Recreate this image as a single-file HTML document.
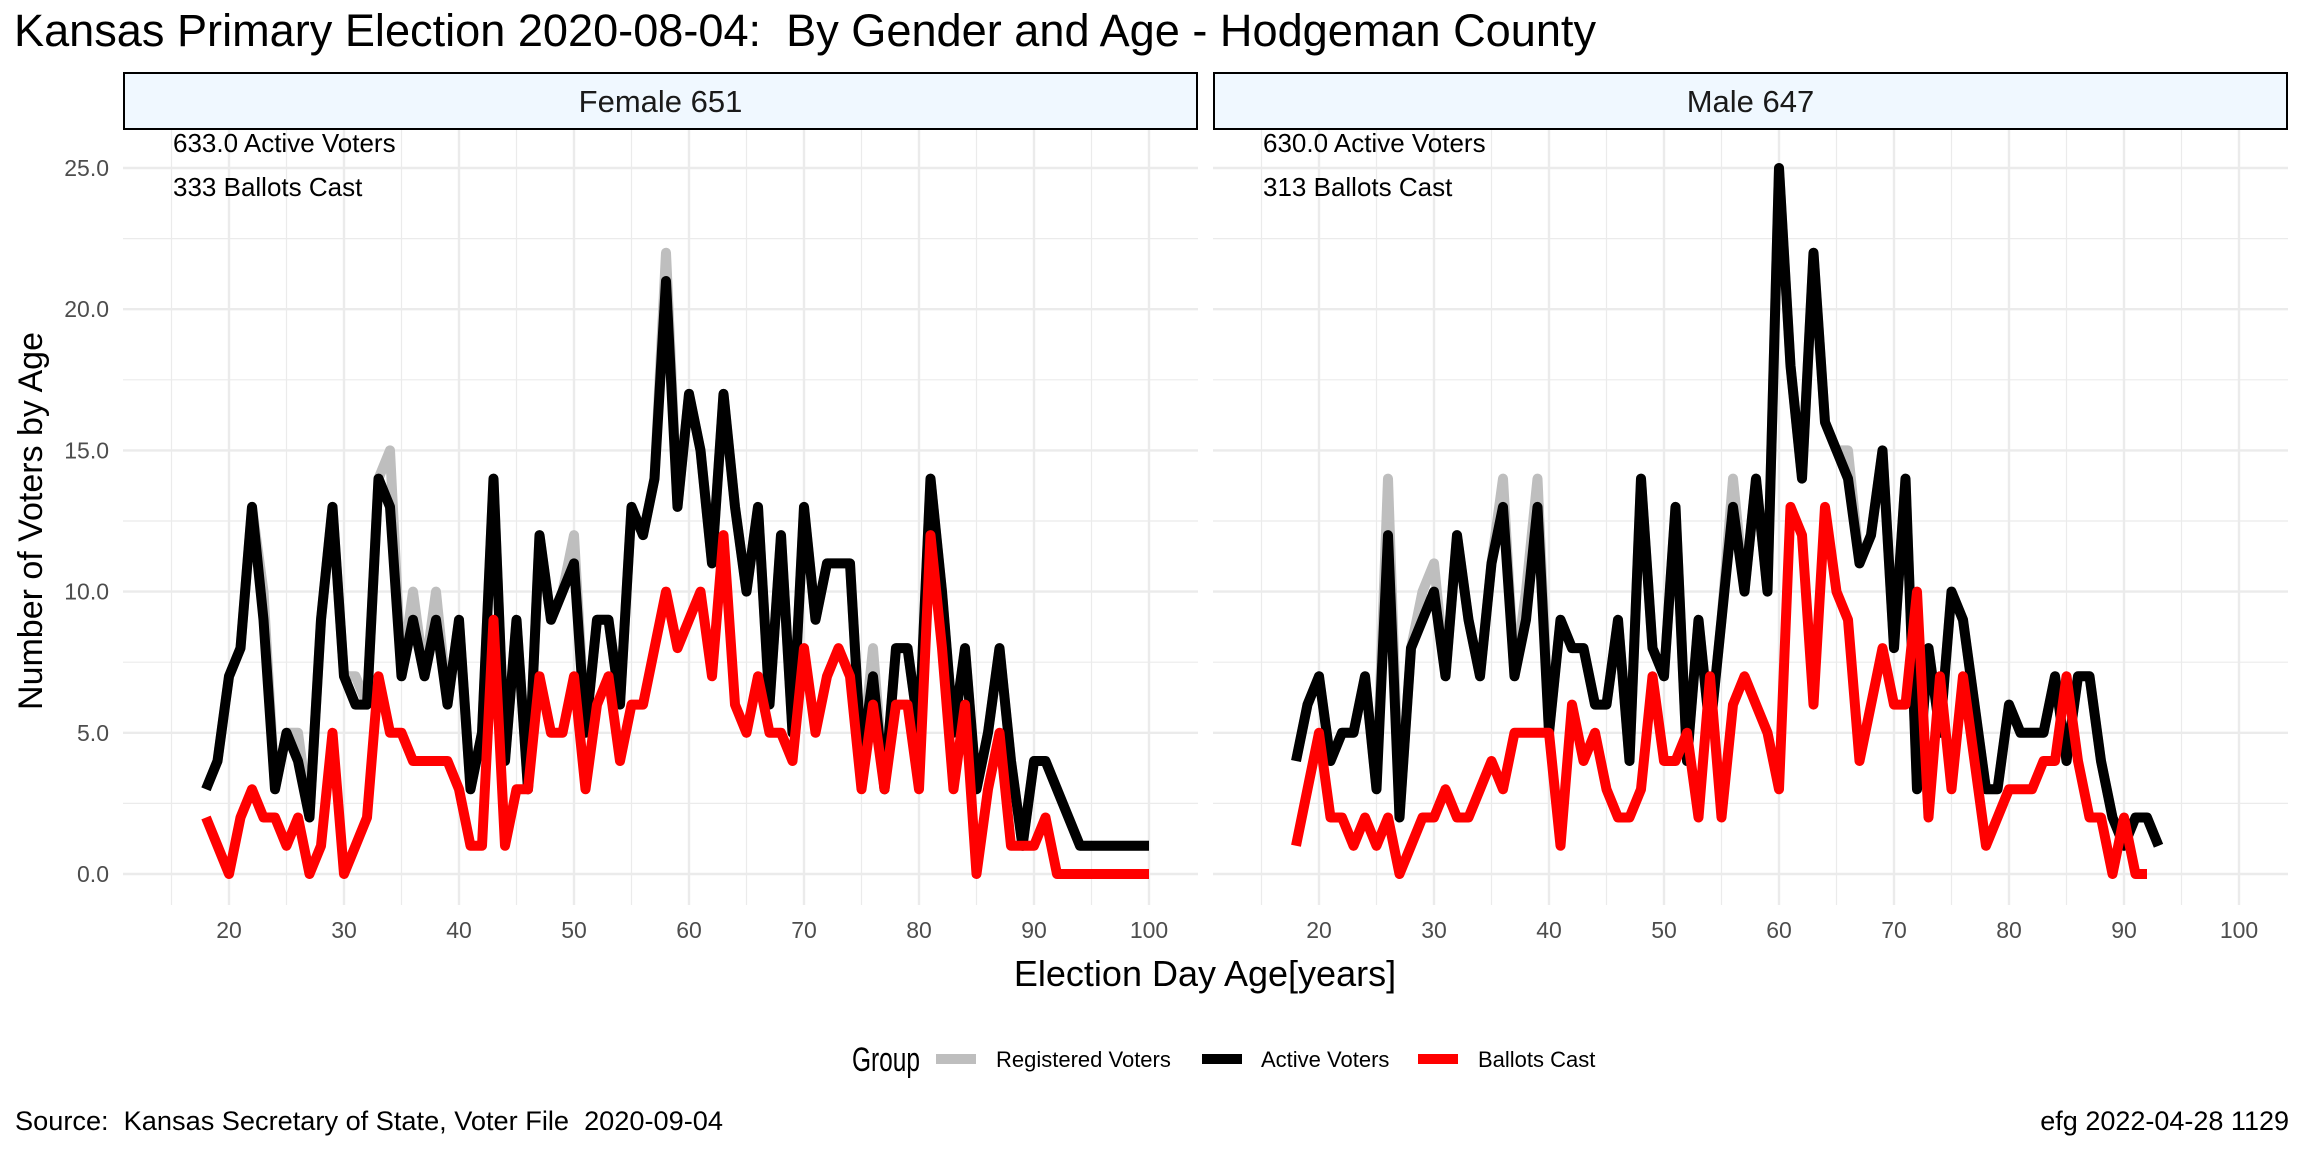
<!DOCTYPE html>
<html><head><meta charset="utf-8"><style>
html,body{margin:0;padding:0;background:#fff;}
svg{display:block;font-family:"Liberation Sans",Arial,sans-serif;}
text{white-space:pre;}
</style></head><body>
<svg id="chart" width="2304" height="1152" viewBox="0 0 2304 1152" xmlns="http://www.w3.org/2000/svg" xml:space="preserve">
<rect width="2304" height="1152" fill="#fff"/>
<text x="14" y="46" font-size="45" fill="#000" textLength="1582" lengthAdjust="spacingAndGlyphs">Kansas Primary Election 2020-08-04:  By Gender and Age - Hodgeman County</text>
<g id="panels"></g>
<text transform="translate(42,521) rotate(-90)" text-anchor="middle" font-size="34" fill="#000">Number of Voters by Age</text>
<text x="1205" y="986" text-anchor="middle" font-size="36" fill="#000">Election Day Age[years]</text>
<g>
<text x="852" y="1071" font-size="34" fill="#000" textLength="68" lengthAdjust="spacingAndGlyphs">Group</text>
<rect x="936" y="1054" width="40" height="10" fill="#bebebe"/>
<text x="996" y="1067" font-size="22" fill="#000">Registered Voters</text>
<rect x="1202" y="1054" width="40" height="10" fill="#000"/>
<text x="1261" y="1067" font-size="22" fill="#000">Active Voters</text>
<rect x="1418" y="1054" width="40" height="10" fill="#ff0000"/>
<text x="1478" y="1067" font-size="22" fill="#000">Ballots Cast</text>
</g>
<text x="15" y="1130" font-size="27" fill="#000" textLength="708" lengthAdjust="spacingAndGlyphs">Source:  Kansas Secretary of State, Voter File  2020-09-04</text>
<text x="2289" y="1130" text-anchor="end" font-size="27" fill="#000">efg 2022-04-28 1129</text>
</svg>
<script>
const femaleAges = [18,19,20,21,22,23,24,25,26,27,28,29,30,31,32,33,34,35,36,37,38,39,40,41,42,43,44,45,46,47,48,49,50,51,52,53,54,55,56,57,58,59,60,61,62,63,64,65,66,67,68,69,70,71,72,73,74,75,76,77,78,79,80,81,82,83,84,85,86,87,88,89,90,91,92,93,94,95,96,97,98,99,100];
const femaleRegistered = [3,4,7,8,13,10,3,5,5,2,9,13,7,7,6,14,15,7,10,7,10,6,9,3,5,14,4,9,3,12,9,10,12,5,9,9,6,13,12,14,22,13,17,15,11,17,13,10,13,6,12,5,13,9,11,11,11,4,8,3,8,8,5,14,10,5,8,3,5,8,4,1,4,4,3,2,1,1,1,1,1,1,1];
const femaleActive = [3,4,7,8,13,9,3,5,4,2,9,13,7,6,6,14,13,7,9,7,9,6,9,3,5,14,4,9,3,12,9,10,11,5,9,9,6,13,12,14,21,13,17,15,11,17,13,10,13,6,12,5,13,9,11,11,11,4,7,3,8,8,5,14,10,5,8,3,5,8,4,1,4,4,3,2,1,1,1,1,1,1,1];
const femaleBallots = [2,1,0,2,3,2,2,1,2,0,1,5,0,1,2,7,5,5,4,4,4,4,3,1,1,9,1,3,3,7,5,5,7,3,6,7,4,6,6,8,10,8,9,10,7,12,6,5,7,5,5,4,8,5,7,8,7,3,6,3,6,6,3,12,8,3,6,0,3,5,1,1,1,2,0,0,0,0,0,0,0,0,0];
const maleAges = [18,19,20,21,22,23,24,25,26,27,28,29,30,31,32,33,34,35,36,37,38,39,40,41,42,43,44,45,46,47,48,49,50,51,52,53,54,55,56,57,58,59,60,61,62,63,64,65,66,67,68,69,70,71,72,73,74,75,76,77,78,79,80,81,82,83,84,85,86,87,88,89,90,91,92,93];
const maleRegistered = [4,6,7,4,5,5,7,3,14,2,8,10,11,7,12,9,7,11,14,7,10,14,5,9,8,8,6,6,9,4,14,8,7,13,4,9,5,9,14,10,14,10,25,18,14,22,16,15,15,11,12,15,8,14,3,8,5,10,9,6,3,3,6,5,5,5,7,4,7,7,4,2,1,2,2,1];
const maleActive = [4,6,7,4,5,5,7,3,12,2,8,9,10,7,12,9,7,11,13,7,9,13,5,9,8,8,6,6,9,4,14,8,7,13,4,9,5,9,13,10,14,10,25,18,14,22,16,15,14,11,12,15,8,14,3,8,5,10,9,6,3,3,6,5,5,5,7,4,7,7,4,2,1,2,2,1];
const maleBallots = [1,3,5,2,2,1,2,1,2,0,1,2,2,3,2,2,3,4,3,5,5,5,5,1,6,4,5,3,2,2,3,7,4,4,5,2,7,2,6,7,6,5,3,13,12,6,13,10,9,4,6,8,6,6,10,2,7,3,7,4,1,2,3,3,3,4,4,7,4,2,2,0,2,0,0];
const panelTitles = ["Female 651","Male 647"];
const activeNotes = ["633.0 Active Voters","630.0 Active Voters"];
const ballotNotes = ["333 Ballots Cast","313 Ballots Cast"];
const xTicks = [20,30,40,50,60,70,80,90,100];
const yTicks = [0,5,10,15,20,25];
const yTickLabels = ["0.0","5.0","10.0","15.0","20.0","25.0"];

const NS = "http://www.w3.org/2000/svg";
const panelsG = document.getElementById("panels");
const PW = 1075, PT = 129, PB = 905;
const panelLeft = [123, 1213];
function xScale(p, age){ return panelLeft[p] + 106 + (age - 20) * 11.5; }
function yScale(v){ return 874 - v * 28.24; }
function mk(tag, attrs, parent){ const e = document.createElementNS(NS, tag); for (const k in attrs) e.setAttribute(k, attrs[k]); parent.appendChild(e); return e; }

const datasets = [
  {ages: femaleAges, reg: femaleRegistered, act: femaleActive, bal: femaleBallots},
  {ages: maleAges, reg: maleRegistered, act: maleActive, bal: maleBallots}
];

for (let p = 0; p < 2; p++) {
  const L = panelLeft[p];
  const g = mk("g", {}, panelsG);
  
  
  for (let v = 2.5; v <= 25; v += 5) {
    const l = mk("line", {x1: L, x2: L + PW, y1: yScale(v), y2: yScale(v), stroke: "#ebebeb", "stroke-width": 1.2}, g);
    
    
  }
  for (let a = 15; a <= 105; a += 10) {
    if (xScale(p, a) < L || xScale(p, a) > L + PW) continue;
    const l = mk("line", {x1: xScale(p, a), x2: xScale(p, a), y1: PT, y2: PB, stroke: "#ebebeb", "stroke-width": 1.2}, g);
    
    
  }
  yTicks.forEach((v, i) => {
    const l = mk("line", {x1: L, x2: L + PW, y1: yScale(v), y2: yScale(v), stroke: "#ebebeb", "stroke-width": 2.4}, g);
    
    
    if (p === 0) {
      const t = mk("text", {x: 109, y: yScale(v) + 8, "text-anchor": "end", "font-size": 23, fill: "#4d4d4d"}, g);
      t.textContent = yTickLabels[i];
      
      
    }
  });
  xTicks.forEach(a => {
    const l = mk("line", {x1: xScale(p, a), x2: xScale(p, a), y1: PT, y2: PB, stroke: "#ebebeb", "stroke-width": 2.4}, g);
    
    
    const t = mk("text", {x: xScale(p, a), y: 938, "text-anchor": "middle", "font-size": 23, fill: "#4d4d4d"}, g);
    t.textContent = a;
    
    
  });
  const s = mk("rect", {x: L + 1, y: 73, width: PW - 2, height: 56, fill: "#f0f8ff", stroke: "#000", "stroke-width": 2}, g);
  
  
  const st = mk("text", {x: L + PW / 2, y: 112, "text-anchor": "middle", "font-size": 31, fill: "#1a1a1a"}, g);
  st.textContent = panelTitles[p];
  
  
  const d = datasets[p];
  const series = [[d.reg, "#bebebe", "registered-voters-line"], [d.act, "#000000", "active-voters-line"], [d.bal, "#ff0000", "ballots-cast-line"]];
  series.forEach(([vals, col, nm]) => {
    const pts = d.ages.map((a, i) => xScale(p, a).toFixed(1) + "," + yScale(vals[i]).toFixed(1)).join(" ");
    const pl = mk("polyline", {points: pts, fill: "none", stroke: col, "stroke-width": 10, "stroke-linejoin": "round", "stroke-linecap": "butt"}, g);
    
    
  });
  const n1 = mk("text", {x: L + 50, y: 152, "font-size": 26, fill: "#000"}, g);
  n1.textContent = activeNotes[p];
  
  
  const n2 = mk("text", {x: L + 50, y: 196, "font-size": 26, fill: "#000"}, g);
  n2.textContent = ballotNotes[p];
  
  
}
</script>
</body></html>
